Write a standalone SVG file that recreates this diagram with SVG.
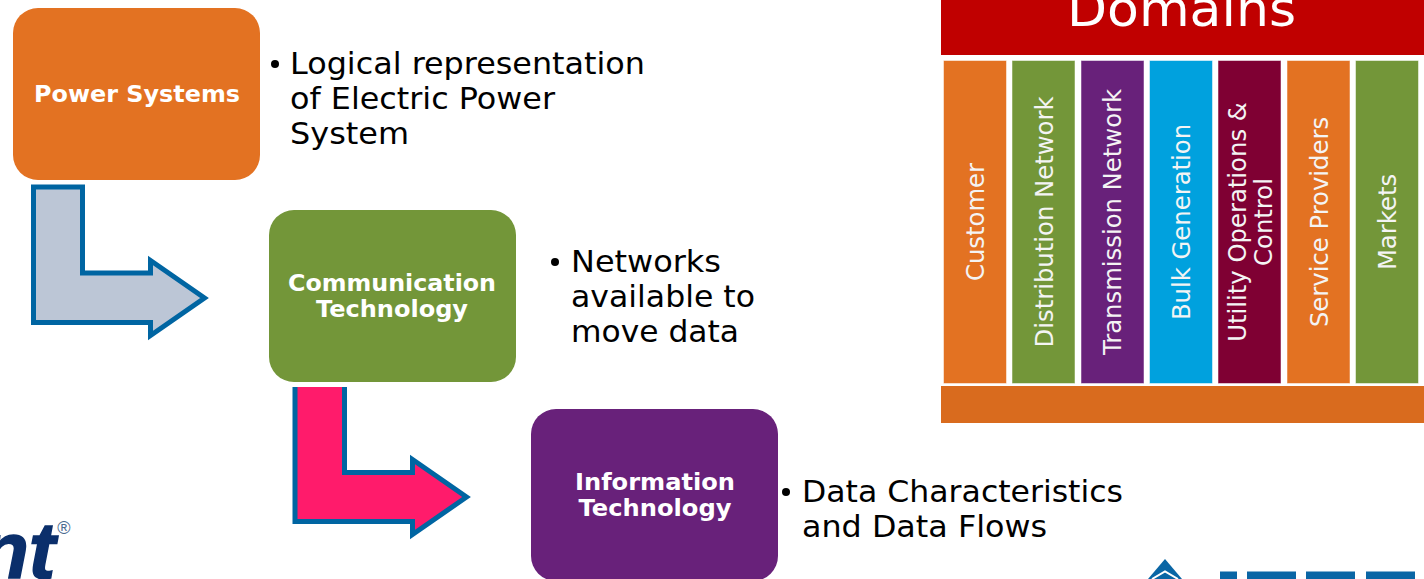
<svg xmlns="http://www.w3.org/2000/svg" width="1424" height="579" viewBox="0 0 1424 579">
<style>
text{font-family:"DejaVu Sans",Verdana,sans-serif}
.b{fill:#000;font-size:30px}
.h{fill:#fff;font-size:22.5px;font-weight:bold;text-anchor:middle}
.c{stroke-width:1;stroke-opacity:.5;stroke:#fff}
.v{fill:#f4f4f4;font-size:24.300px;text-anchor:middle}
.a{stroke:#0065a2;stroke-width:5}
</style>
<rect width="1424" height="579" fill="#fff"/>
<g id="connectors">
<path class="a" fill="#bcc6d6" d="M33.500 187H82.500V273H150.500V260.500L204.500 298L150.500 335.500V322.500H33.500Z"/>
<path fill="#ff1b6b" d="M295 387H344.500V472.500H412.500V459.500L466.500 497L412.500 534.500V521.500H295Z"/>
<path class="a" fill="none" d="M295 387V521.500H412.500V534.500L466.500 497L412.500 459.500V472.500H344.500V387"/>
</g>
<g id="power-systems"><rect x="13" y="8" width="247" height="172" rx="25" fill="#e37222"/><text class="h" x="137" y="102" textLength="206" lengthAdjust="spacingAndGlyphs">Power Systems</text></g>
<g id="power-text"><circle cx="275" cy="64" r="4"/><text class="b" x="290" y="74" textLength="355" lengthAdjust="spacingAndGlyphs">Logical representation</text><text class="b" x="290" y="109" textLength="265" lengthAdjust="spacingAndGlyphs">of Electric Power</text><text class="b" x="290" y="144" textLength="119" lengthAdjust="spacingAndGlyphs">System</text></g>
<g id="communication"><rect x="269" y="210" width="247" height="172" rx="25" fill="#739639"/><text class="h" x="392" y="291" textLength="208" lengthAdjust="spacingAndGlyphs">Communication</text><text class="h" x="392" y="317" textLength="152" lengthAdjust="spacingAndGlyphs">Technology</text></g>
<g id="communication-text"><circle cx="555" cy="262" r="4"/><text class="b" x="571" y="272" textLength="150" lengthAdjust="spacingAndGlyphs">Networks</text><text class="b" x="571" y="307" textLength="184" lengthAdjust="spacingAndGlyphs">available to</text><text class="b" x="571" y="342" textLength="168" lengthAdjust="spacingAndGlyphs">move data</text></g>
<g id="information"><rect x="531" y="409" width="247" height="172" rx="25" fill="#68217a"/><text class="h" x="655" y="490" textLength="160" lengthAdjust="spacingAndGlyphs">Information</text><text class="h" x="655" y="516" textLength="153" lengthAdjust="spacingAndGlyphs">Technology</text></g>
<g id="information-text"><circle cx="786" cy="492" r="4"/><text class="b" x="802" y="502" textLength="321" lengthAdjust="spacingAndGlyphs">Data Characteristics</text><text class="b" x="802" y="537" textLength="245" lengthAdjust="spacingAndGlyphs">and Data Flows</text></g>
<g id="domains">
<rect x="941" y="0" width="483" height="55" fill="#c00000"/>
<text x="1181.500" y="26" fill="#fff" font-size="50" text-anchor="middle" textLength="229" lengthAdjust="spacingAndGlyphs">Domains</text>
<rect x="941" y="386" width="483" height="37" fill="#d96b1e"/>
</g>
<g id="d-customer"><rect class="c" x="943.500" y="60.500" width="63" height="323" fill="#e37222"/><text class="v" transform="translate(984 222) rotate(-90)">Customer</text></g>
<g id="d-distribution"><rect class="c" x="1012" y="60.500" width="63" height="323" fill="#739639"/><text class="v" transform="translate(1052.500 222) rotate(-90)">Distribution Network</text></g>
<g id="d-transmission"><rect class="c" x="1081" y="60.500" width="63" height="323" fill="#68217a"/><text class="v" transform="translate(1121 222) rotate(-90)">Transmission Network</text></g>
<g id="d-bulk"><rect class="c" x="1149.500" y="60.500" width="63" height="323" fill="#00a1de"/><text class="v" transform="translate(1189.500 222) rotate(-90)">Bulk Generation</text></g>
<g id="d-utility"><rect class="c" x="1218" y="60.500" width="63" height="323" fill="#7f0033"/><text class="v" transform="translate(1245.500 222) rotate(-90)">Utility Operations &amp;</text><text class="v" transform="translate(1271.500 222) rotate(-90)">Control</text></g>
<g id="d-service"><rect class="c" x="1287" y="60.500" width="63" height="323" fill="#e37222"/><text class="v" transform="translate(1327.500 222) rotate(-90)">Service Providers</text></g>
<g id="d-markets"><rect class="c" x="1355.500" y="60.500" width="63" height="323" fill="#739639"/><text class="v" transform="translate(1396 222) rotate(-90)">Markets</text></g>
<g id="logo-left"><text x="-20" y="578" font-size="80" font-weight="bold" font-style="italic" fill="#0b2f6b" stroke="#0b2f6b" stroke-width="1.500" style="font-family:'Liberation Sans',sans-serif">nt</text><text x="64" y="534" font-size="18" text-anchor="middle" fill="#4a6a8f" style="font-family:'Liberation Sans',sans-serif">®</text></g>
<g id="logo-right" fill="#0a66a5">
<path d="M1165 559L1182 579H1148Z"/>
<path d="M1152 579L1165 571.500L1178 579" fill="none" stroke="#fff" stroke-width="2"/>
<rect x="1220" y="571.500" width="17" height="8"/><rect x="1247" y="571.500" width="49" height="8"/><rect x="1306" y="571.500" width="49" height="8"/><rect x="1366" y="571.500" width="49" height="8"/>
</g>
</svg>
